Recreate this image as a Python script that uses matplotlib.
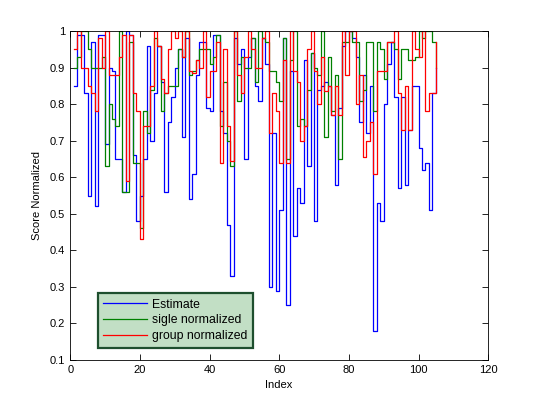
import numpy as np
import matplotlib.pyplot as plt

plt.rcParams['font.family'] = ['Liberation Sans', 'DejaVu Sans']

# values (index 1..105)
estimate = [0.85, 0.99, 0.99, 0.83, 0.55, 0.97, 0.52, 0.99, 0.99, 0.69,
            0.90, 0.89, 0.65, 0.65, 0.56, 1.00, 0.99, 0.66, 0.48, 0.55,
            0.65, 0.96, 0.70, 0.83, 0.96, 0.86, 0.56, 0.75, 0.82, 0.90,
            0.95, 0.71, 0.98, 0.54, 0.61, 0.88, 0.97, 0.97, 0.79, 0.78,
            0.99, 0.99, 0.78, 0.72, 0.47, 0.33, 0.98, 0.91, 0.95, 0.65,
            0.93, 0.98, 0.85, 0.81, 0.98, 0.91, 0.30, 0.72, 0.29, 0.51,
            0.98, 0.25, 0.89, 0.44, 0.57, 0.53, 0.92, 0.63, 0.94, 0.48,
            0.84, 0.85, 0.86, 0.85, 0.77, 0.58, 0.79, 0.96, 1.00, 1.00,
            0.98, 0.93, 0.75, 0.88, 0.72, 0.85, 0.18, 0.53, 0.48, 0.80,
            0.91, 0.97, 0.82, 0.57, 0.82, 0.58, 0.73, 0.85, 0.85, 0.68,
            0.62, 0.64, 0.51, 0.83, 0.90]

single_norm = [0.90, 0.93, 1.00, 1.00, 0.95, 0.90, 0.90, 0.90, 0.93, 0.63,
               0.80, 0.76, 0.74, 1.00, 0.56, 0.56, 0.97, 0.64, 0.64, 0.46,
               0.78, 0.72, 0.84, 0.98, 0.96, 0.78, 0.83, 0.85, 0.85, 0.85,
               0.95, 0.93, 1.00, 0.88, 0.89, 0.92, 0.95, 0.95, 0.95, 0.91,
               0.93, 0.99, 0.74, 0.86, 0.70, 0.63, 1.00, 0.81, 0.93, 0.90,
               0.90, 0.98, 0.86, 1.00, 0.98, 0.97, 0.89, 0.89, 0.86, 0.81,
               0.98, 0.65, 0.92, 1.00, 0.74, 0.76, 0.74, 0.84, 0.94, 0.90,
               0.88, 1.00, 0.71, 0.93, 0.78, 0.88, 0.65, 0.97, 0.97, 1.00,
               0.97, 0.97, 0.81, 0.84, 0.97, 0.97, 0.78, 0.97, 0.95, 0.87,
               0.97, 0.97, 0.95, 0.87, 0.95, 0.95, 0.92, 0.92, 0.93, 1.00,
               0.98, 1.00, 1.00, 0.97, 0.90]

group_norm = [0.95, 1.00, 0.90, 0.90, 0.85, 0.83, 0.78, 0.98, 0.90, 1.00,
              0.88, 0.88, 0.88, 0.93, 0.99, 0.59, 0.99, 0.83, 0.78, 0.43,
              0.74, 0.74, 0.85, 1.00, 0.96, 0.87, 0.83, 0.95, 1.00, 0.98,
              1.00, 0.93, 1.00, 0.89, 0.885, 0.92, 0.90, 1.00, 0.82, 0.89,
              0.89, 0.97, 0.64, 0.95, 0.74, 0.645, 1.00, 0.88, 0.83, 0.93,
              1.00, 0.95, 0.90, 0.90, 0.98, 1.00, 0.72, 0.83, 0.78, 0.64,
              0.92, 0.64, 1.00, 0.89, 0.86, 0.70, 0.74, 0.95, 1.00, 0.89,
              0.80, 0.93, 0.835, 0.85, 0.77, 0.85, 0.77, 1.00, 0.88, 1.00,
              1.00, 0.80, 0.88, 0.655, 0.70, 0.75, 0.61, 0.89, 0.89, 0.89,
              0.97, 0.97, 1.00, 0.83, 0.73, 0.85, 0.73, 1.00, 0.95, 0.93,
              1.00, 0.78, 0.83, 0.83, 0.97]

labels = ['Estimate', 'sigle normalized', 'group normalized']
idx = np.arange(1, len(estimate) + 1)

fig = plt.figure(figsize=(5.4, 4.04), dpi=100)
ax = fig.add_axes([0.13, 0.109, 0.774, 0.814])

ax.step(idx, estimate, where='post', color='#0000ff', lw=0.9, label=labels[0])
ax.step(idx, single_norm, where='post', color='#008000', lw=0.9, label=labels[1])
ax.step(idx, group_norm, where='post', color='#ff0000', lw=0.9, label=labels[2])

ax.set_xlim(0, 120)
ax.set_ylim(0.1, 1)
ax.set_xticks(np.arange(0, 121, 20))
ax.set_yticks(np.arange(0.1, 1.01, 0.1))
ax.set_yticklabels(['0.1', '0.2', '0.3', '0.4', '0.5', '0.6', '0.7', '0.8', '0.9', '1'])
ax.tick_params(direction='in', top=True, right=True, labelsize=8, length=4, width=0.6)
for s in ax.spines.values():
    s.set_linewidth(0.6)

ax.set_xlabel('Index', fontsize=8, labelpad=4)
ax.set_ylabel('Score Normalized', fontsize=8, labelpad=6)

# legend box sits low-left, MATLAB style
leg = ax.legend(loc='lower left', bbox_to_anchor=(0.181, 0.139), bbox_transform=fig.transFigure,
                borderaxespad=0, fontsize=8.8, fancybox=False, framealpha=1,
                handlelength=3.6, handletextpad=0.4, labelspacing=0.32, borderpad=0.45)
leg.get_frame().set_facecolor('#c2dfc5')
leg.get_frame().set_edgecolor('#1e4f2e')
leg.get_frame().set_linewidth(1.6)

fig.savefig('out.png', dpi=100)
